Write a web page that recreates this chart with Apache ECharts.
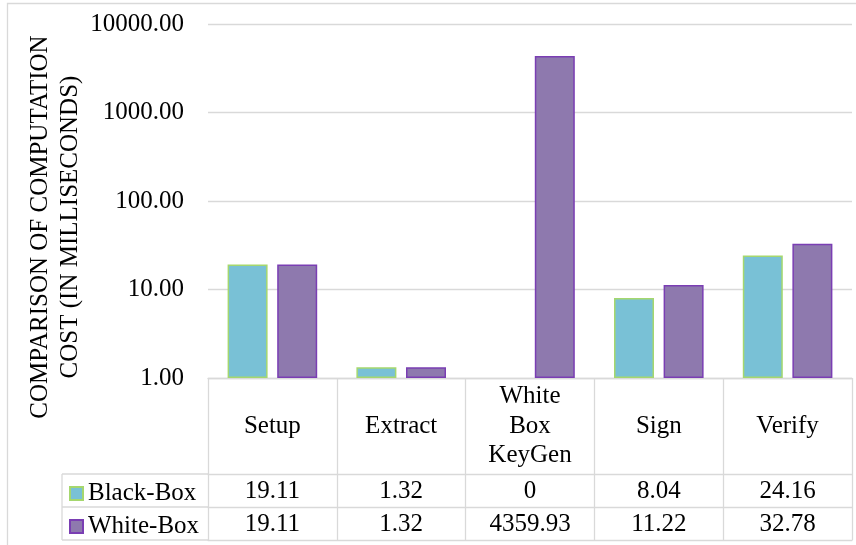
<!DOCTYPE html>
<html>
<head>
<meta charset="utf-8">
<script src="https://cdn.jsdelivr.net/npm/echarts@6/dist/echarts.min.js"></script>
<style>html,body{margin:0;padding:0;background:#fff}#c{width:856px;height:545px}</style>
</head>
<body>
<div id="c"></div>
<script>
const categories = ['Setup', 'Extract', 'White\nBox\nKeyGen', 'Sign', 'Verify'];
const seriesNames = ['Black-Box', 'White-Box'];
const blackBox = [19.11, 1.32, 0, 8.04, 24.16];
const whiteBox = [19.11, 1.32, 4359.93, 11.22, 32.78];
const yTicks = [1, 10, 100, 1000, 10000];
const yTitle = ['COMPARISON OF COMPUTATION', 'COST (IN MILLISECONDS)'];

const FONT = "'Liberation Serif', 'Times New Roman', serif";
const GRID = '#d9d9d9';
const FS = 25;

const chart = echarts.init(document.getElementById('c'), null, {renderer: 'canvas'});

function tableAxis(offset, values) {
  return {
    type: 'category', data: categories, position: 'bottom', offset: offset,
    axisLine: {show: true, lineStyle: {color: GRID, width: 1.3}},
    axisTick: {show: false},
    axisLabel: values ? {
      show: true, interval: 0, margin: 17, verticalAlign: 'middle',
      color: '#000', fontFamily: FONT, fontSize: FS,
      formatter: (v, i) => String(values[i])
    } : {show: false},
    splitLine: {show: false}
  };
}

function legendRow(name, top) {
  return {
    data: [name], orient: 'horizontal', left: 69, top: top,
    icon: 'rect', itemWidth: 13, itemHeight: 13, itemGap: 0,
    textStyle: {fontFamily: FONT, fontSize: FS, color: '#000', lineHeight: 20},
    selectedMode: false, padding: 0
  };
}

const option = {
  backgroundColor: '#fff',
  animation: false,
  grid: {left: 208, right: 4, top: 24, bottom: 167, containLabel: false},
  legend: [legendRow(seriesNames[0], 481), legendRow(seriesNames[1], 514)],
  xAxis: [
    {
      type: 'category', data: categories, position: 'bottom',
      axisLine: {show: true, lineStyle: {color: GRID, width: 1.3}},
      axisTick: {show: true, length: 162, lineStyle: {color: GRID, width: 1.3}},
      axisLabel: {interval: 0, margin: 48, verticalAlign: 'middle', lineHeight: 29.5,
        color: '#000', fontFamily: FONT, fontSize: FS},
      splitLine: {show: false}
    },
    tableAxis(96, blackBox),
    tableAxis(129, whiteBox),
    tableAxis(162, null)
  ],
  yAxis: {
    type: 'log', logBase: 10, min: yTicks[0], max: yTicks[yTicks.length - 1],
    axisLine: {show: false}, axisTick: {show: false},
    axisLabel: {margin: 24, color: '#000', fontFamily: FONT, fontSize: FS,
      formatter: v => Number(v).toFixed(2)},
    splitLine: {show: true, lineStyle: {color: GRID, width: 1.3}}
  },
  series: [
    {
      name: seriesNames[0], type: 'bar', xAxisIndex: 0,
      data: blackBox.map(v => v > 0 ? v : null),
      barWidth: 40, barGap: '24%',
      itemStyle: {color: '#79C1D6', borderColor: '#A5D76E', borderWidth: 1.5}
    },
    {
      name: seriesNames[1], type: 'bar', xAxisIndex: 0,
      data: whiteBox.map(v => v > 0 ? v : null),
      barWidth: 40,
      itemStyle: {color: '#8E79AE', borderColor: '#7A3EB3', borderWidth: 1.5}
    }
  ],
  graphic: [
    {type: 'rect', shape: {x: 7.5, y: 3.5, width: 860, height: 560}, silent: true,
      style: {fill: 'none', stroke: GRID, lineWidth: 1.3}, z: -1},
    {type: 'line', shape: {x1: 62, y1: 474, x2: 208, y2: 474}, style: {stroke: GRID, lineWidth: 1.3}},
    {type: 'line', shape: {x1: 62, y1: 507, x2: 208, y2: 507}, style: {stroke: GRID, lineWidth: 1.3}},
    {type: 'line', shape: {x1: 62, y1: 540, x2: 208, y2: 540}, style: {stroke: GRID, lineWidth: 1.3}},
    {type: 'line', shape: {x1: 62, y1: 474, x2: 62, y2: 540}, style: {stroke: GRID, lineWidth: 1.3}},
    {type: 'text', x: 55, y: 227, rotation: Math.PI / 2,
      style: {text: yTitle.join('\n'), font: FS + 'px ' + FONT, fill: '#000',
        align: 'center', verticalAlign: 'middle', lineHeight: 30}}
  ]
};
chart.setOption(option);
</script>
</body>
</html>
